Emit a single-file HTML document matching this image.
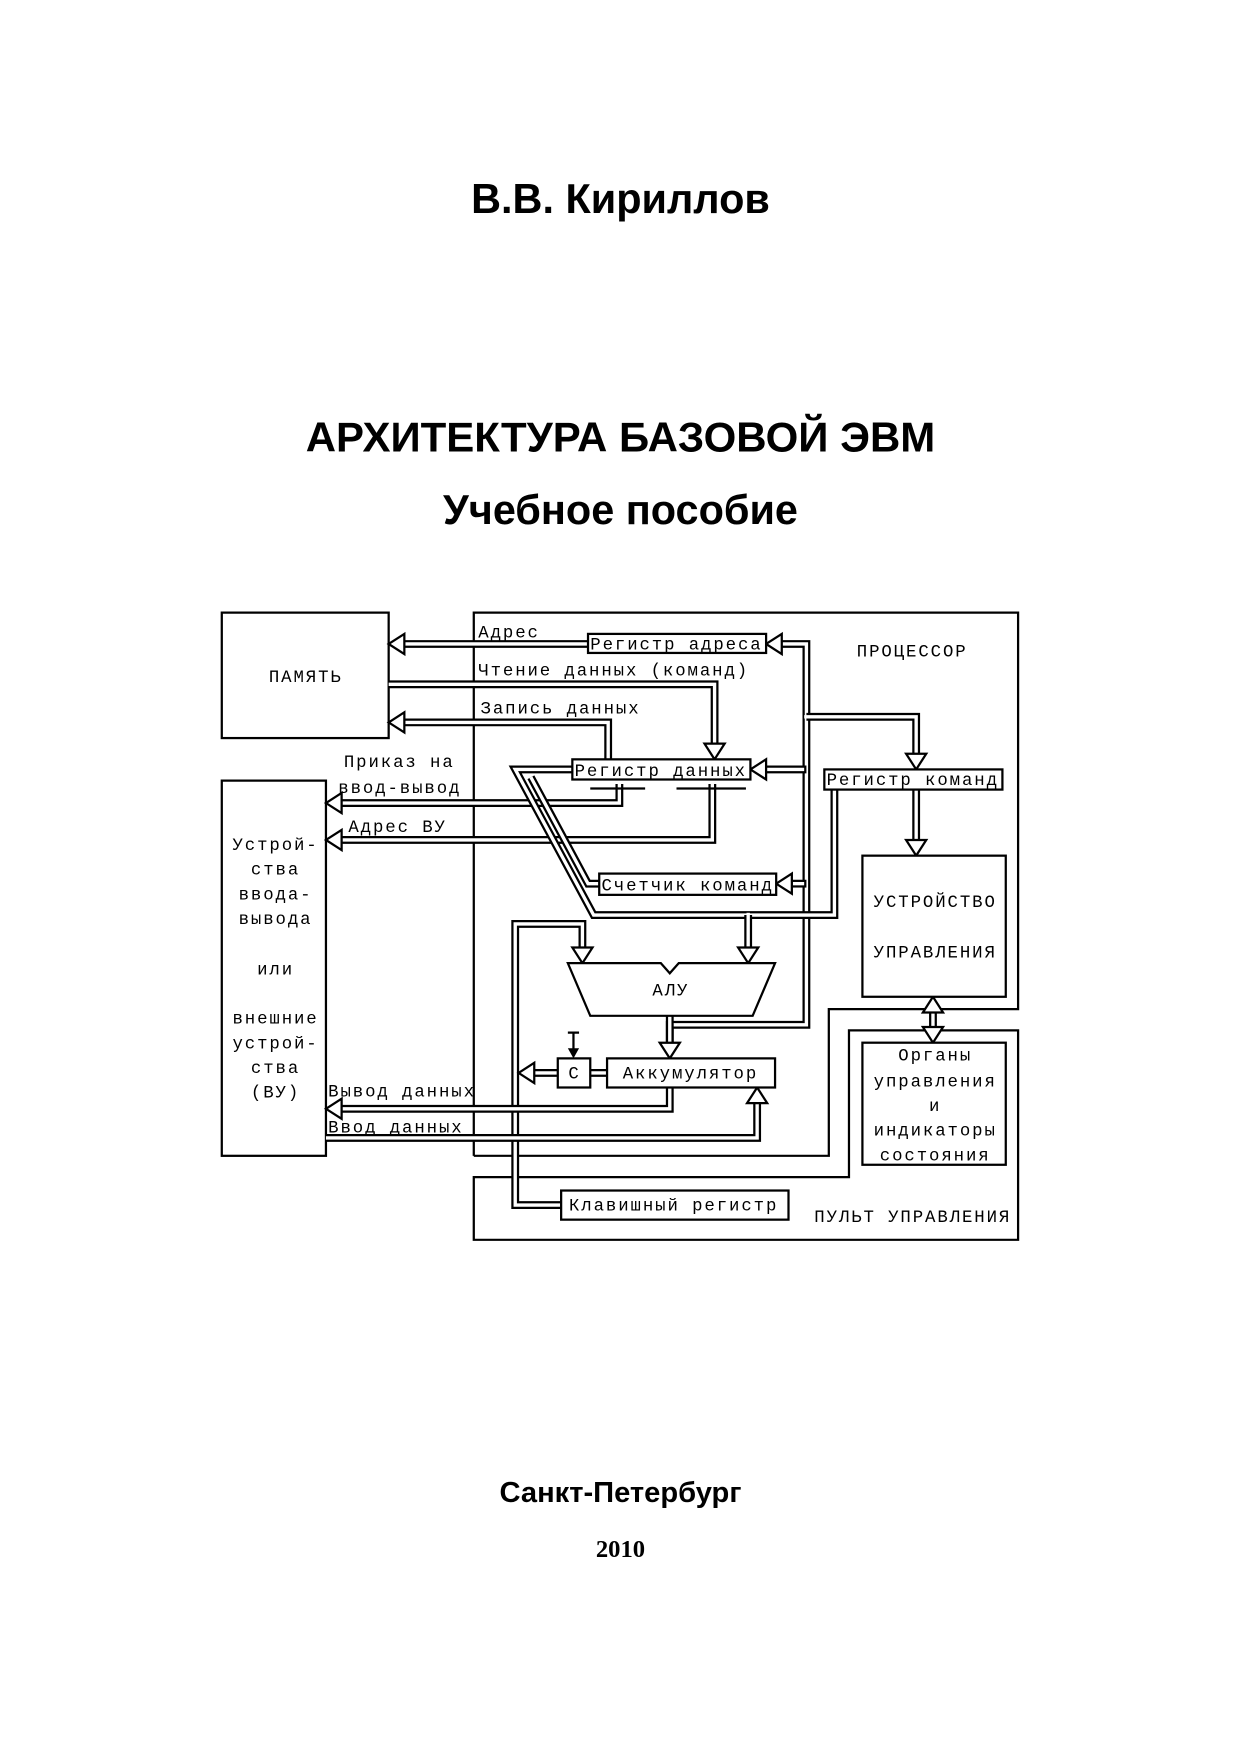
<!DOCTYPE html>
<html><head><meta charset="utf-8"><style>
html,body{margin:0;padding:0;background:#fff;}
svg{display:block;}
.t{font-family:"Liberation Mono","DejaVu Sans Mono",monospace;font-size:15.5px;fill:#000;letter-spacing:1.7px;}
.h{font-family:"Liberation Sans",sans-serif;font-weight:bold;fill:#000;text-anchor:middle;}
.b{fill:none;stroke:#000;stroke-width:7;stroke-linejoin:miter;}
.w{fill:none;stroke:#fff;stroke-width:3;stroke-linejoin:miter;}
.a{fill:#fff;stroke:#000;stroke-width:2;}
.r{fill:#fff;stroke:#000;stroke-width:2;}
.l{fill:none;stroke:#000;stroke-width:2;}
</style></head><body>
<svg width="1241" height="1755" viewBox="0 0 1108 1567" xmlns="http://www.w3.org/2000/svg">
<text class="h" x="554" y="190" font-size="37">В.В. Кириллов</text>
<text class="h" x="554" y="403" font-size="37.5">АРХИТЕКТУРА БАЗОВОЙ ЭВМ</text>
<text class="h" x="554" y="468" font-size="37">Учебное пособие</text>
<text class="h" x="554" y="1341" font-size="26">Санкт-Петербург</text>
<text x="554" y="1390" font-size="22" font-weight="bold" text-anchor="middle" font-family="Liberation Serif,serif">2010</text>

<rect class="l" x="198" y="547" width="149" height="112"/>
<rect class="l" x="198" y="697" width="93" height="335"/>
<path class="l" d="M423,1032 V547 H909 V901 H740 V1032 H423"/>
<path class="l" d="M423,1051 H758 V920 H909 V1107 H423 Z"/>

<g>
<path class="b" d="M525,575 H361"/><path class="w" d="M525,575 H361"/>
<path class="b" d="M347,611 H638 V664"/><path class="w" d="M347,611 H638 V664"/>
<path class="b" d="M543,678 V645 H361"/><path class="w" d="M543,678 V645 H361"/>
<path class="b" d="M553,700 V717 H305"/><path class="w" d="M553,700 V717 H305"/>
<path class="b" d="M636,700 V750 H305"/><path class="w" d="M636,700 V750 H305"/>
<path class="b" d="M698,575 H720 V915 H598 V931"/><path class="w" d="M698,575 H720 V915 H598 V931"/>
<path class="b" d="M598,907 V931"/><path class="w" d="M598,905 V931"/>
<path class="b" d="M684,687 H720"/><path class="w" d="M684,687 H718"/>
<path class="b" d="M707,789 H720"/><path class="w" d="M707,789 H718"/>
<path class="b" d="M720,640 H818 V673"/><path class="w" d="M718,640 H818 V673"/>
<path class="b" d="M818,705 V750"/><path class="w" d="M818,705 V750"/>
<path class="b" d="M745,705 V817 H530 L460,687 H511"/><path class="w" d="M745,705 V817 H530 L460,687 H511"/>
<path class="b" d="M668,817 V846"/><path class="w" d="M668,815 V846"/>
<path class="b" d="M474,694 L525,789 H535"/><path class="w" d="M474,694 L525,789 H535"/>
<path class="b" d="M501,1076 H460 V825 H520 V846"/><path class="w" d="M501,1076 H460 V825 H520 V846"/>
<path class="b" d="M498,958 H477"/><path class="w" d="M498,958 H477"/>
<path class="b" d="M527,958 H542"/><path class="w" d="M527,958 H542"/>
<path class="b" d="M598,971 V990 H305"/><path class="w" d="M598,971 V990 H305"/>
<path class="b" d="M291,1016 H676 V985"/><path class="w" d="M291,1016 H676 V985"/>
<path class="b" d="M833,904 V917"/><path class="w" d="M833,902 V919"/>
</g>
<polygon class="a" points="347,575 361,566 361,584"/>
<polygon class="a" points="638,678 629,664 647,664"/>
<polygon class="a" points="347,645 361,636 361,654"/>
<polygon class="a" points="291,717 305,708 305,726"/>
<polygon class="a" points="291,750 305,741 305,759"/>
<polygon class="a" points="684,575 698,566 698,584"/>
<polygon class="a" points="670,687 684,678 684,696"/>
<polygon class="a" points="693,789 707,780 707,798"/>
<polygon class="a" points="818,687 809,673 827,673"/>
<polygon class="a" points="818,764 809,750 827,750"/>
<polygon class="a" points="668,860 659,846 677,846"/>
<polygon class="a" points="520,860 511,846 529,846"/>
<polygon class="a" points="598,945 589,931 607,931"/>
<polygon class="a" points="463,958 477,949 477,967"/>
<polygon class="a" points="291,990 305,981 305,999"/>
<polygon class="a" points="676,971 667,985 685,985"/>
<polygon class="a" points="833,890 824,904 842,904"/>
<polygon class="a" points="833,931 824,917 842,917"/>
<path class="l" d="M507,922 H517 M512,922 V938"/>
<polygon points="512,945 507,936 517,936" fill="#000"/>

<rect class="r" x="525" y="566" width="159" height="17"/>
<rect class="r" x="511" y="678" width="159" height="18"/>
<rect class="r" x="736" y="687" width="159" height="18"/>
<rect class="r" x="535" y="780" width="158" height="19"/>
<rect class="r" x="770" y="764" width="128" height="126"/>
<rect class="r" x="770" y="931" width="128" height="109"/>
<rect class="r" x="498" y="945" width="29" height="26"/>
<rect class="r" x="542" y="945" width="150" height="26"/>
<rect class="r" x="501" y="1063" width="203" height="26"/>
<path class="r" d="M507,860 H590 L598,869 L606,860 H692 L672,907 H527 Z"/>
<path class="l" d="M527,704 H576 M604,704 H666"/>

<text class="t" x="427" y="569">Адрес</text>
<text class="t" x="527" y="580">Регистр адреса</text>
<text class="t" x="765" y="586">ПРОЦЕССОР</text>
<text class="t" x="427" y="603">Чтение данных (команд)</text>
<text class="t" x="273" y="609" text-anchor="middle">ПАМЯТЬ</text>
<text class="t" x="429" y="637">Запись данных</text>
<text class="t" x="307" y="685">Приказ на</text>
<text class="t" x="302" y="708">ввод-вывод</text>
<text class="t" x="513" y="693">Регистр данных</text>
<text class="t" x="738" y="701">Регистр команд</text>
<text class="t" x="311" y="743">Адрес ВУ</text>
<text class="t" x="537" y="795">Счетчик команд</text>
<g text-anchor="middle">
<text class="t" x="835" y="810">УСТРОЙСТВО</text>
<text class="t" x="835" y="855">УПРАВЛЕНИЯ</text>
<text class="t" x="599" y="889">АЛУ</text>
<text class="t" x="246" y="759">Устрой-</text>
<text class="t" x="246" y="781">ства</text>
<text class="t" x="246" y="803">ввода-</text>
<text class="t" x="246" y="825">вывода</text>
<text class="t" x="246" y="870">или</text>
<text class="t" x="246" y="914">внешние</text>
<text class="t" x="246" y="936">устрой-</text>
<text class="t" x="246" y="958">ства</text>
<text class="t" x="246" y="980">(ВУ)</text>
<text class="t" x="835" y="947">Органы</text>
<text class="t" x="835" y="970">управления</text>
<text class="t" x="835" y="992">и</text>
<text class="t" x="835" y="1014">индикаторы</text>
<text class="t" x="835" y="1036">состояния</text>
<text class="t" x="513" y="963">С</text>
</g>
<text class="t" x="556" y="963">Аккумулятор</text>
<text class="t" x="293" y="979">Вывод данных</text>
<text class="t" x="293" y="1011">Ввод данных</text>
<text class="t" x="508" y="1081">Клавишный регистр</text>
<text class="t" x="727" y="1091">ПУЛЬТ УПРАВЛЕНИЯ</text>
</svg>
</body></html>
